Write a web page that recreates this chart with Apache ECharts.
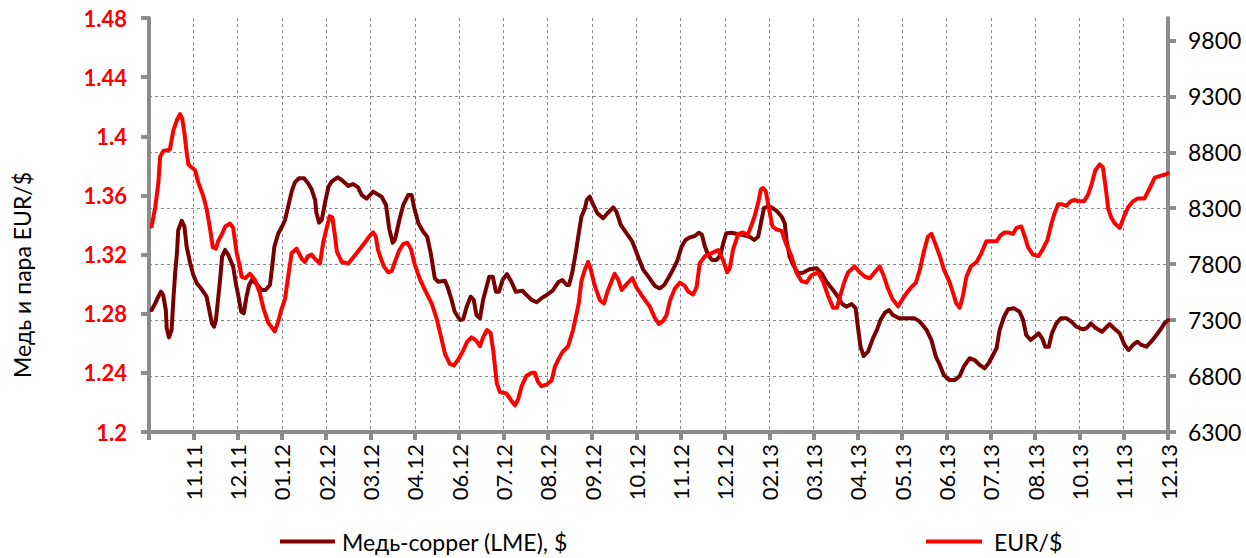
<!DOCTYPE html>
<html>
<head>
<meta charset="utf-8">
<title>Медь и EUR/$</title>
<script src="https://cdn.jsdelivr.net/npm/echarts@6/dist/echarts.min.js"></script>
<style>
  html, body { margin: 0; padding: 0; background: #fff; }
  #chart { width: 1246px; height: 558px; }
</style>
</head>
<body>
<div id="chart"></div>
<script>
// month labels under the x ticks (tick 1..23)
const xLabels = ["11.11", "12.11", "01.12", "02.12", "03.12", "04.12", "06.12", "07.12", "08.12", "09.12",
  "10.12", "11.12", "12.12", "02.13", "03.13", "04.13", "05.13", "06.13", "07.13", "08.13", "10.13", "11.13", "12.13"];

const copperTicks = [6300, 6800, 7300, 7800, 8300, 8800, 9300, 9800];

// [position in tick units, value]
const copperData = [
  [0.06,7390],[0.14,7450],[0.21,7509],[0.27,7554],[0.32,7524],[0.38,7390],[0.40,7227],[0.45,7146],[0.51,7212],[0.55,7480],
  [0.59,7718],[0.63,7897],[0.66,8105],[0.74,8188],[0.80,8135],[0.85,7956],[0.93,7808],[1.00,7703],[1.08,7629],[1.19,7575],
  [1.30,7509],[1.36,7390],[1.42,7271],[1.47,7241],[1.51,7301],[1.55,7450],[1.60,7643],[1.65,7867],[1.72,7927],[1.79,7882],
  [1.90,7777],[1.96,7629],[2.02,7509],[2.08,7375],[2.14,7361],[2.20,7509],[2.26,7614],[2.32,7658],[2.43,7623],[2.54,7569],
  [2.63,7569],[2.73,7614],[2.78,7777],[2.83,7956],[2.92,8076],[3.01,8141],[3.07,8195],[3.14,8314],[3.22,8448],[3.29,8528],
  [3.38,8567],[3.50,8567],[3.59,8523],[3.67,8469],[3.75,8373],[3.78,8255],[3.84,8171],[3.90,8195],[3.97,8344],[4.05,8492],
  [4.12,8537],[4.26,8576],[4.35,8552],[4.50,8499],[4.61,8516],[4.72,8487],[4.80,8418],[4.91,8385],[5.06,8448],[5.25,8403],
  [5.35,8329],[5.42,8120],[5.50,7992],[5.55,8016],[5.65,8195],[5.74,8329],[5.85,8418],[5.93,8418],[5.98,8314],[6.08,8165],
  [6.19,8090],[6.28,8045],[6.36,7897],[6.45,7674],[6.53,7643],[6.68,7652],[6.75,7584],[6.83,7480],[6.90,7375],[7.02,7301],
  [7.09,7307],[7.17,7420],[7.26,7509],[7.33,7480],[7.39,7346],[7.47,7316],[7.54,7480],[7.62,7599],[7.68,7688],[7.76,7688],
  [7.83,7554],[7.90,7554],[7.98,7658],[8.08,7712],[8.18,7643],[8.28,7554],[8.43,7563],[8.52,7524],[8.64,7480],[8.75,7459],
  [8.86,7495],[8.97,7524],[9.11,7563],[9.20,7614],[9.25,7643],[9.33,7658],[9.43,7614],[9.48,7614],[9.55,7718],[9.63,7897],
  [9.70,8076],[9.76,8224],[9.84,8299],[9.88,8373],[9.95,8403],[10.03,8329],[10.12,8255],[10.25,8210],[10.35,8255],[10.48,8308],
  [10.55,8269],[10.65,8150],[10.78,8076],[10.91,8001],[11.04,7867],[11.15,7754],[11.27,7688],[11.42,7605],[11.53,7584],[11.63,7614],
  [11.72,7674],[11.83,7754],[11.93,7837],[12.02,7956],[12.11,8016],[12.21,8040],[12.32,8052],[12.41,8081],[12.48,8061],[12.55,7956],
  [12.62,7882],[12.71,7837],[12.81,7837],[12.90,7882],[12.96,7986],[13.03,8076],[13.15,8081],[13.28,8070],[13.41,8061],[13.56,8045],
  [13.66,8016],[13.75,8045],[13.81,8165],[13.88,8300],[13.97,8315],[14.05,8308],[14.16,8278],[14.28,8224],[14.35,8165],[14.39,8016],
  [14.46,7867],[14.54,7792],[14.65,7718],[14.76,7724],[14.91,7754],[15.07,7763],[15.18,7718],[15.29,7643],[15.44,7569],[15.55,7509],
  [15.65,7444],[15.74,7420],[15.86,7444],[15.95,7406],[16.00,7241],[16.06,7062],[16.13,6979],[16.23,7018],[16.34,7137],[16.43,7212],
  [16.51,7301],[16.61,7366],[16.70,7390],[16.79,7346],[16.93,7316],[17.10,7316],[17.28,7316],[17.40,7286],[17.55,7212],[17.66,7122],
  [17.76,6973],[17.85,6899],[17.94,6809],[18.06,6765],[18.19,6765],[18.30,6800],[18.39,6884],[18.52,6959],[18.64,6943],[18.75,6899],
  [18.86,6869],[18.95,6914],[19.05,6988],[19.13,7048],[19.20,7212],[19.30,7330],[19.39,7397],[19.52,7406],[19.65,7375],[19.73,7301],
  [19.80,7167],[19.90,7122],[19.99,7152],[20.08,7182],[20.16,7137],[20.23,7062],[20.31,7062],[20.38,7182],[20.48,7271],[20.58,7316],
  [20.71,7316],[20.82,7286],[20.93,7241],[21.08,7218],[21.16,7227],[21.26,7271],[21.36,7232],[21.51,7196],[21.68,7265],[21.78,7227],
  [21.91,7182],[22.02,7078],[22.11,7033],[22.21,7078],[22.31,7107],[22.40,7078],[22.51,7062],[22.62,7107],[22.74,7167],[22.85,7227],
  [22.92,7271],[23.00,7300]
];

const eurData = [
  [0.06,1.339],[0.14,1.352],[0.21,1.368],[0.25,1.386],[0.32,1.390],[0.47,1.391],[0.55,1.404],[0.63,1.411],[0.70,1.415],[0.75,1.412],
  [0.80,1.402],[0.85,1.389],[0.89,1.381],[0.96,1.379],[1.04,1.377],[1.11,1.369],[1.23,1.359],[1.30,1.351],[1.38,1.337],[1.44,1.325],
  [1.51,1.324],[1.56,1.329],[1.65,1.334],[1.72,1.339],[1.83,1.341],[1.90,1.338],[1.98,1.321],[2.05,1.312],[2.09,1.305],[2.17,1.304],
  [2.28,1.307],[2.39,1.303],[2.50,1.294],[2.58,1.284],[2.69,1.274],[2.84,1.268],[2.92,1.275],[2.99,1.283],[3.07,1.290],[3.14,1.305],
  [3.22,1.321],[3.33,1.324],[3.45,1.317],[3.52,1.315],[3.59,1.319],[3.67,1.320],[3.75,1.317],[3.86,1.314],[3.93,1.328],[4.01,1.338],
  [4.08,1.346],[4.14,1.345],[4.20,1.332],[4.24,1.322],[4.35,1.315],[4.50,1.314],[4.69,1.321],[4.87,1.328],[4.99,1.333],[5.06,1.335],
  [5.12,1.332],[5.17,1.323],[5.25,1.316],[5.30,1.312],[5.40,1.308],[5.48,1.309],[5.55,1.315],[5.65,1.323],[5.74,1.327],[5.83,1.328],
  [5.91,1.324],[6.00,1.313],[6.12,1.303],[6.23,1.296],[6.38,1.287],[6.49,1.277],[6.57,1.267],[6.68,1.253],[6.79,1.246],[6.88,1.245],
  [6.98,1.249],[7.09,1.255],[7.18,1.261],[7.28,1.264],[7.38,1.262],[7.47,1.258],[7.54,1.264],[7.63,1.269],[7.71,1.267],[7.77,1.255],
  [7.81,1.244],[7.85,1.233],[7.92,1.227],[8.07,1.226],[8.16,1.222],[8.26,1.218],[8.33,1.222],[8.41,1.231],[8.52,1.238],[8.64,1.240],
  [8.71,1.240],[8.78,1.234],[8.86,1.231],[8.97,1.232],[9.09,1.235],[9.16,1.244],[9.24,1.249],[9.33,1.254],[9.46,1.258],[9.57,1.269],
  [9.65,1.280],[9.70,1.287],[9.76,1.302],[9.84,1.310],[9.91,1.315],[9.97,1.310],[10.06,1.299],[10.18,1.289],[10.27,1.287],[10.35,1.295],
  [10.44,1.302],[10.51,1.307],[10.59,1.303],[10.67,1.296],[10.78,1.300],[10.91,1.304],[11.00,1.298],[11.13,1.292],[11.30,1.285],[11.42,1.277],
  [11.51,1.273],[11.60,1.275],[11.68,1.279],[11.76,1.289],[11.87,1.297],[11.98,1.301],[12.09,1.299],[12.17,1.295],[12.28,1.293],[12.36,1.298],
  [12.43,1.314],[12.55,1.319],[12.70,1.321],[12.85,1.323],[12.96,1.316],[13.05,1.308],[13.11,1.311],[13.18,1.323],[13.30,1.334],[13.41,1.335],
  [13.51,1.333],[13.60,1.340],[13.67,1.346],[13.75,1.355],[13.81,1.364],[13.86,1.365],[13.92,1.363],[14.00,1.350],[14.07,1.339],[14.16,1.337],
  [14.28,1.336],[14.37,1.328],[14.50,1.319],[14.61,1.308],[14.73,1.302],[14.84,1.301],[14.95,1.306],[15.10,1.308],[15.21,1.302],[15.33,1.292],
  [15.44,1.284],[15.53,1.284],[15.61,1.293],[15.70,1.302],[15.78,1.308],[15.93,1.312],[16.04,1.308],[16.16,1.305],[16.27,1.304],[16.38,1.308],
  [16.49,1.312],[16.58,1.306],[16.68,1.297],[16.78,1.290],[16.91,1.285],[17.01,1.290],[17.10,1.294],[17.21,1.298],[17.31,1.301],[17.40,1.310],
  [17.49,1.322],[17.58,1.332],[17.66,1.334],[17.74,1.328],[17.85,1.319],[17.94,1.310],[18.06,1.302],[18.15,1.294],[18.22,1.287],[18.30,1.284],
  [18.37,1.292],[18.45,1.305],[18.55,1.312],[18.68,1.315],[18.79,1.321],[18.90,1.329],[19.01,1.329],[19.13,1.329],[19.22,1.333],[19.31,1.335],
  [19.39,1.335],[19.50,1.334],[19.58,1.338],[19.69,1.339],[19.77,1.332],[19.84,1.325],[19.95,1.320],[20.08,1.319],[20.18,1.324],[20.28,1.330],
  [20.37,1.341],[20.44,1.348],[20.52,1.354],[20.61,1.354],[20.71,1.353],[20.80,1.356],[20.89,1.357],[20.98,1.356],[21.10,1.356],[21.19,1.360],
  [21.28,1.368],[21.36,1.377],[21.46,1.381],[21.53,1.379],[21.59,1.366],[21.65,1.351],[21.72,1.345],[21.80,1.341],[21.91,1.338],[22.01,1.346],
  [22.10,1.352],[22.21,1.356],[22.32,1.358],[22.47,1.358],[22.59,1.365],[22.70,1.372],[22.81,1.373],[22.92,1.374],[23.00,1.375]
];

const FONT = "Lato, 'Noto Sans', sans-serif";
const AXIS_GRAY = "#8c8c8c";
const GRID_GRAY = "#8a8a8a";

const chart = echarts.init(document.getElementById("chart"), null, { renderer: "svg" });

chart.setOption({
  animation: false,
  backgroundColor: "#fff",
  grid: { left: 149, right: 78, top: 18, bottom: 126 },
  legend: [
    {
      data: ["Медь-copper (LME), $"],
      left: 280,
      top: 530,
      padding: 0,
      icon: "rect",
      itemWidth: 55,
      itemHeight: 4,
      selectedMode: false,
      textStyle: { fontFamily: FONT, fontSize: 23, color: "#000", padding: [0, 0, 0, 2] },
    },
    {
      data: ["EUR/$"],
      left: 926,
      top: 530,
      padding: 0,
      icon: "rect",
      itemWidth: 56,
      itemHeight: 4,
      selectedMode: false,
      textStyle: { fontFamily: FONT, fontSize: 23, color: "#000", padding: [0, 0, 0, 7] },
    },
  ],
  graphic: [
    {
      type: "text",
      x: 22,
      y: 275,
      rotation: Math.PI / 2,
      style: {
        text: "Медь и пара EUR/$",
        fontFamily: FONT,
        fontSize: 23,
        fill: "#000",
        align: "center",
        verticalAlign: "middle",
      },
    },
  ],
  xAxis: {
    type: "value",
    min: 0,
    max: 23,
    interval: 1,
    axisLine: { show: true, lineStyle: { color: AXIS_GRAY, width: 4 } },
    axisTick: { show: true, length: 8, lineStyle: { color: AXIS_GRAY, width: 4 } },
    splitLine: { show: true, lineStyle: { color: GRID_GRAY, width: 1, type: [3, 3] } },
    axisLabel: {
      rotate: 90,
      margin: 12,
      fontFamily: FONT,
      fontSize: 22,
      color: "#000",
      formatter: (v) => (v >= 1 ? xLabels[Math.round(v) - 1] : ""),
    },
  },
  yAxis: [
    {
      type: "value",
      position: "left",
      min: 1.2,
      max: 1.48,
      interval: 0.04,
      axisLine: { show: true, lineStyle: { color: AXIS_GRAY, width: 4 } },
      axisTick: { show: true, length: 8, lineStyle: { color: AXIS_GRAY, width: 4 } },
      splitLine: { show: false },
      axisLabel: {
        margin: 22,
        fontFamily: FONT,
        fontSize: 22,
        fontWeight: "bold",
        color: "#ff0000",
        formatter: (v) => String(+v.toFixed(2)),
      },
    },
    {
      type: "value",
      position: "right",
      min: 6300,
      max: 10000,
      interval: 500,
      axisLine: { show: true, lineStyle: { color: AXIS_GRAY, width: 4 } },
      axisTick: { show: true, length: 8, customValues: copperTicks, lineStyle: { color: AXIS_GRAY, width: 4 } },
      splitLine: {
        show: true,
        showMinLine: false,
        showMaxLine: false,
        lineStyle: { color: GRID_GRAY, width: 1, type: [3, 3] },
      },
      axisLabel: {
        margin: 20,
        fontFamily: FONT,
        fontSize: 23,
        color: "#000",
        customValues: copperTicks,
        formatter: (v) => String(v),
      },
    },
  ],
  series: [
    {
      name: "Медь-copper (LME), $",
      type: "line",
      yAxisIndex: 1,
      data: copperData,
      showSymbol: false,
      color: "#7a0000",
      lineStyle: { width: 4, color: "#7a0000", join: "round", cap: "round" },
    },
    {
      name: "EUR/$",
      type: "line",
      yAxisIndex: 0,
      data: eurData,
      showSymbol: false,
      color: "#ff0000",
      lineStyle: { width: 4, color: "#ff0000", join: "round", cap: "round" },
    },
  ],
});

window.addEventListener("resize", () => {
  chart.resize();
});
</script>
</body>
</html>
